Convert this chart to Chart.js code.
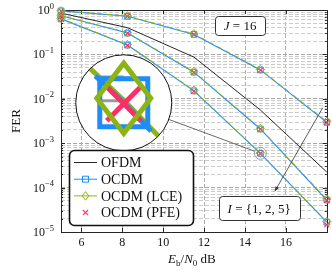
<!DOCTYPE html>
<html>
<head>
<meta charset="utf-8">
<script src="https://cdn.jsdelivr.net/npm/chart.js@4.4.0/dist/chart.umd.min.js"></script>
<style>
  html, body { margin: 0; padding: 0; background: #fff; }
</style>
</head>
<body>
<canvas id="fer" width="332" height="274"></canvas>
<script>
// Eb/N0 points (dB) and FER
const ebn0 = [5, 8.25, 11.5, 14.75, 18];
const ofdm   = [0.85, 0.40, 0.087, 0.0056, 0.000224];
const ocdmI1 = [0.955, 0.724, 0.282, 0.0447, 0.00295];
const ocdmI2 = [0.741, 0.302, 0.0398, 0.00209, 0.0000525];
const ocdmI5 = [0.631, 0.162, 0.0151, 0.000592, 0.0000166];
const lceI1  = [0.96, 0.735, 0.29, 0.046, 0.0031];
const lceI2  = [0.75, 0.31, 0.041, 0.00215, 0.000055];
const lceI5  = [0.64, 0.166, 0.0155, 0.000602, 0.0000172];
const pfeI1  = [0.95, 0.72, 0.28, 0.0443, 0.0029];
const pfeI2  = [0.735, 0.298, 0.0393, 0.00206, 0.000051];
const pfeI5  = [0.625, 0.159, 0.0148, 0.000588, 0.0000145];

const xTicks = [6, 8, 10, 12, 14, 16];
const yDecades = [1, 0.1, 0.01, 0.001, 0.0001, 0.00001];
const seriesNames = ['OFDM', 'OCDM', 'OCDM (LCE)', 'OCDM (PFE)'];

// annotation anchors (data coordinates)
const labelJ = [13.76, Math.pow(10, -0.34)];
const labelI = [14.69, Math.pow(10, -4.46)];
const arrowFrom = [17.8, Math.pow(10, -2.2)];
const arrowTo = [15.46, Math.pow(10, -4.08)];
const insetAt = [8.07, Math.pow(10, -2.09)];

const BLUE = '#1f8cfa', GREEN = '#8cb414', PINK = '#ff2d64', BLACK = '#262626';
const SERIF = '"Liberation Serif", "DejaVu Serif", serif';

const pts = arr => ebn0.map((x, i) => ({ x: x, y: arr[i] }));

function ocdmSet(arr) {
  return { label: seriesNames[1], data: pts(arr), borderColor: BLUE, borderWidth: 1.1,
    pointStyle: 'rect', pointRadius: 4, pointBorderWidth: 1, pointBackgroundColor: 'rgba(0,0,0,0)',
    order: 2, clip: false };
}
function lceSet(arr) {
  return { label: seriesNames[2], data: pts(arr), borderColor: GREEN, borderWidth: 1,
    borderDash: [5, 4],
    pointStyle: 'rectRot', pointRadius: 4.2, pointBorderWidth: 1, pointBackgroundColor: 'rgba(0,0,0,0)',
    order: 0, clip: false };
}
function pfeSet(arr) {
  return { label: seriesNames[3], data: pts(arr), borderColor: PINK, showLine: false,
    pointStyle: 'crossRot', pointRadius: 3.3, pointBorderWidth: 1.2,
    order: 1, clip: false };
}

const datasets = [
  { label: seriesNames[0], data: pts(ofdm), borderColor: BLACK, borderWidth: 1, pointRadius: 0, order: 3, clip: false },
  ocdmSet(ocdmI1), ocdmSet(ocdmI2), ocdmSet(ocdmI5),
  pfeSet(pfeI1), pfeSet(pfeI2), pfeSet(pfeI5),
  lceSet(lceI1), lceSet(lceI2), lceSet(lceI5)
];

function isDecade(v) {
  const l = Math.log10(v);
  return Math.abs(l - Math.round(l)) < 1e-6;
}

function richText(ctx, parts, x, y, align) {
  let w = 0;
  parts.forEach(p => { ctx.font = p.font; w += ctx.measureText(p.t).width; });
  let cx = align === 'center' ? x - w / 2 : (align === 'right' ? x - w : x);
  ctx.textAlign = 'left';
  ctx.textBaseline = 'alphabetic';
  parts.forEach(p => {
    ctx.font = p.font;
    ctx.fillText(p.t, cx, y + (p.dy || 0));
    cx += ctx.measureText(p.t).width;
  });
  return w;
}

function roundBox(ctx, x, y, w, h, r) {
  ctx.beginPath();
  ctx.moveTo(x + r, y);
  ctx.arcTo(x + w, y, x + w, y + h, r);
  ctx.arcTo(x + w, y + h, x, y + h, r);
  ctx.arcTo(x, y + h, x, y, r);
  ctx.arcTo(x, y, x + w, y, r);
  ctx.closePath();
}

function drawMarker(ctx, style, x, y, s) {
  ctx.beginPath();
  if (style === 'rect') {
    ctx.rect(x - s, y - s, 2 * s, 2 * s);
  } else if (style === 'diamond') {
    ctx.moveTo(x, y - s * 1.3); ctx.lineTo(x + s, y); ctx.lineTo(x, y + s * 1.3); ctx.lineTo(x - s, y); ctx.closePath();
  } else if (style === 'x') {
    ctx.moveTo(x - s, y - s); ctx.lineTo(x + s, y + s);
    ctx.moveTo(x - s, y + s); ctx.lineTo(x + s, y - s);
  }
  ctx.stroke();
}

const decor = {
  id: 'decor',
  beforeDatasetsDraw(chart) {
    const { ctx, chartArea: a, scales: { x: xs, y: ys } } = chart;
    ctx.save();
    ctx.strokeStyle = BLACK;
    ctx.lineWidth = 1;
    // ticks on all four sides
    ctx.beginPath();
    xs.ticks.forEach(t => {
      const px = Math.round(xs.getPixelForValue(t.value)) + 0.5;
      ctx.moveTo(px, a.bottom); ctx.lineTo(px, a.bottom - 4);
      ctx.moveTo(px, a.top); ctx.lineTo(px, a.top + 4);
    });
    ys.ticks.forEach(t => {
      const py = Math.round(ys.getPixelForValue(t.value)) + 0.5;
      const len = isDecade(t.value) ? 4 : 2;
      ctx.moveTo(a.left, py); ctx.lineTo(a.left + len, py);
      ctx.moveTo(a.right, py); ctx.lineTo(a.right - len, py);
    });
    ctx.stroke();
    ctx.strokeRect(Math.round(a.left) + 0.5, Math.round(a.top) + 0.5, Math.round(a.right - a.left), Math.round(a.bottom - a.top));
    ctx.restore();
  },
  afterDraw(chart) {
    const { ctx, chartArea: a, scales: { x: xs, y: ys } } = chart;
    ctx.save();
    ctx.fillStyle = '#111';

    // y tick labels 10^k
    yDecades.forEach(v => {
      const py = ys.getPixelForValue(v);
      const k = Math.round(Math.log10(v));
      const ex = k === 0 ? '0' : '\u2212' + (-k);
      richText(ctx, [
        { t: '10', font: '12px ' + SERIF, dy: 4 },
        { t: ex, font: '8.5px ' + SERIF, dy: -1.5 }
      ], a.left - 7, py, 'right');
    });

    // axis titles
    richText(ctx, [
      { t: 'E', font: 'italic 13px ' + SERIF },
      { t: 'b', font: '9px ' + SERIF, dy: 2.5 },
      { t: '/', font: '13px ' + SERIF },
      { t: 'N', font: 'italic 13px ' + SERIF },
      { t: '0', font: '9px ' + SERIF, dy: 2.5 },
      { t: ' dB', font: '13px ' + SERIF }
    ], (a.left + a.right) / 2 - 2, 263, 'center');

    ctx.save();
    ctx.translate(20, (a.top + a.bottom) / 2);
    ctx.rotate(-Math.PI / 2);
    ctx.font = '13px ' + SERIF;
    ctx.textAlign = 'center';
    ctx.textBaseline = 'alphabetic';
    ctx.fillText('FER', 0, 0);
    ctx.restore();

    // spy-glass inset on the I=5 point at 14.75 dB
    const R = 48, M = 8, si = 3;
    const cx = xs.getPixelForValue(insetAt[0]), cy = ys.getPixelForValue(insetAt[1]);
    const px = xs.getPixelForValue(ebn0[si]), py = ys.getPixelForValue(ocdmI5[si]);
    const tr = (x, y) => [cx + (x - px) * M, cy + (y - py) * M];
    const dx = cx - px, dy = cy - py, d = Math.hypot(dx, dy), r = R / M;
    ctx.strokeStyle = '#444';
    ctx.lineWidth = 0.8;
    ctx.beginPath();
    ctx.moveTo(px + dx / d * r, py + dy / d * r);
    ctx.lineTo(cx - dx / d * R, cy - dy / d * R);
    ctx.stroke();
    ctx.strokeStyle = '#888';
    ctx.beginPath(); ctx.arc(px, py, r, 0, Math.PI * 2); ctx.stroke();

    ctx.save();
    ctx.beginPath(); ctx.arc(cx, cy, R, 0, Math.PI * 2);
    ctx.fillStyle = '#fff'; ctx.fill(); ctx.clip();
    // magnified grid dashes (left of the marker)
    ctx.strokeStyle = '#9a9a9a';
    ctx.lineWidth = 3;
    [6e-4, 7e-4].forEach(v => {
      const gy = ys.getPixelForValue(v);
      const p0 = tr(px - 3.2, gy), p1 = tr(px, gy);
      ctx.beginPath(); ctx.moveTo(p0[0], p0[1]); ctx.lineTo(p1[0], p1[1]); ctx.stroke();
    });
    // magnified curves
    ctx.lineWidth = 5;
    ctx.strokeStyle = GREEN;
    ctx.beginPath();
    [2, 3, 4].forEach((i, n) => {
      const p = tr(xs.getPixelForValue(ebn0[i]), ys.getPixelForValue(lceI5[i]));
      n ? ctx.lineTo(p[0], p[1]) : ctx.moveTo(p[0], p[1]);
    });
    ctx.stroke();
    ctx.save();
    ctx.beginPath(); ctx.arc(cx, cy, R * 0.82, 0, Math.PI * 2); ctx.clip();
    ctx.strokeStyle = BLUE;
    ctx.beginPath();
    [2, 3, 4].forEach((i, n) => {
      const p = tr(xs.getPixelForValue(ebn0[i]), ys.getPixelForValue(ocdmI5[i]));
      n ? ctx.lineTo(p[0], p[1]) : ctx.moveTo(p[0], p[1]);
    });
    ctx.stroke();
    ctx.restore();
    ctx.lineWidth = 5;
    ctx.strokeStyle = BLUE;
    drawMarker(ctx, 'rect', cx, cy, 24);
    const pf = tr(px, ys.getPixelForValue(pfeI5[si]));
    ctx.strokeStyle = PINK;
    drawMarker(ctx, 'x', pf[0], pf[1], 17);
    const pl = tr(px, ys.getPixelForValue(lceI5[si]));
    ctx.strokeStyle = GREEN;
    drawMarker(ctx, 'diamond', pl[0], pl[1] - 2, 27);
    ctx.restore();
    ctx.strokeStyle = '#111';
    ctx.lineWidth = 1;
    ctx.beginPath(); ctx.arc(cx, cy, R, 0, Math.PI * 2); ctx.stroke();

    // arrow across the curves
    const ax0 = xs.getPixelForValue(arrowFrom[0]), ay0 = ys.getPixelForValue(arrowFrom[1]);
    const ax1 = xs.getPixelForValue(arrowTo[0]), ay1 = ys.getPixelForValue(arrowTo[1]);
    const ang = Math.atan2(ay1 - ay0, ax1 - ax0);
    ctx.strokeStyle = '#333';
    ctx.fillStyle = '#333';
    ctx.lineWidth = 0.8;
    ctx.beginPath(); ctx.moveTo(ax0, ay0); ctx.lineTo(ax1, ay1); ctx.stroke();
    ctx.beginPath();
    ctx.moveTo(ax1, ay1);
    ctx.lineTo(ax1 - 5 * Math.cos(ang - 0.4), ay1 - 5 * Math.sin(ang - 0.4));
    ctx.lineTo(ax1 - 5 * Math.cos(ang + 0.4), ay1 - 5 * Math.sin(ang + 0.4));
    ctx.closePath(); ctx.fill();

    // text boxes
    function labelBox(at, parts, w, h) {
      const bx = xs.getPixelForValue(at[0]), by = ys.getPixelForValue(at[1]);
      roundBox(ctx, Math.round(bx - w / 2) + 0.5, Math.round(by - h / 2) + 0.5, w, h, 3);
      ctx.fillStyle = '#fff'; ctx.fill();
      ctx.strokeStyle = '#333'; ctx.lineWidth = 1; ctx.stroke();
      ctx.fillStyle = '#111';
      richText(ctx, parts, bx, by + 4.5, 'center');
    }
    labelBox(labelJ, [
      { t: 'J', font: 'italic 13px ' + SERIF },
      { t: ' = 16', font: '13px ' + SERIF }
    ], 50, 19);
    labelBox(labelI, [
      { t: 'I', font: 'italic 13px ' + SERIF },
      { t: ' = {1, 2, 5}', font: '13px ' + SERIF }
    ], 81, 24);

    // legend
    const lx = a.left + 8, ly = a.bottom - 82, lw = 124, lh = 75;
    roundBox(ctx, lx + 0.5, ly + 0.5, lw, lh, 5);
    ctx.fillStyle = '#fff'; ctx.fill();
    ctx.strokeStyle = '#111'; ctx.lineWidth = 1.6; ctx.stroke();
    const rows = [
      { name: seriesNames[0], color: BLACK, line: true, mark: null },
      { name: seriesNames[1], color: BLUE, line: true, mark: 'rect' },
      { name: seriesNames[2], color: GREEN, line: true, mark: 'diamond' },
      { name: seriesNames[3], color: PINK, line: false, mark: 'x' }
    ];
    rows.forEach((row, i) => {
      const ry = ly + 12.5 + i * 16.7;
      ctx.strokeStyle = row.color;
      ctx.lineWidth = 1;
      if (row.line) {
        ctx.beginPath(); ctx.moveTo(lx + 5, ry); ctx.lineTo(lx + 28, ry); ctx.stroke();
      }
      if (row.mark === 'rect') drawMarker(ctx, 'rect', lx + 16.5, ry, 3);
      if (row.mark === 'diamond') drawMarker(ctx, 'diamond', lx + 16.5, ry, 3.3);
      if (row.mark === 'x') { ctx.lineWidth = 1.1; drawMarker(ctx, 'x', lx + 16.5, ry, 2.6); }
      ctx.fillStyle = '#111';
      ctx.font = '14px ' + SERIF;
      ctx.textAlign = 'left';
      ctx.textBaseline = 'middle';
      ctx.fillText(row.name, lx + 32, ry + 1);
    });
    ctx.restore();
  }
};

const gridColor = c => (c.tick && isDecade(c.tick.value)) ? '#a8a8a8' : '#cccccc';

new Chart(document.getElementById('fer').getContext('2d'), {
  type: 'line',
  data: { datasets: datasets },
  options: {
    responsive: false,
    animation: false,
    devicePixelRatio: 1,
    layout: { padding: { left: 0, right: 4, top: 10, bottom: 0 } },
    elements: { line: { tension: 0 } },
    plugins: { legend: { display: false }, tooltip: { enabled: false } },
    scales: {
      x: {
        type: 'linear', min: 5, max: 18,
        afterBuildTicks: s => { s.ticks = xTicks.map(v => ({ value: v })); },
        afterFit: s => { s.height = 42; },
        ticks: { font: { family: SERIF, size: 12 }, color: '#111', padding: 4 },
        grid: { drawTicks: false, color: '#b0b0b0', lineWidth: 1 },
        border: { display: false, dash: [4, 2] }
      },
      y: {
        type: 'logarithmic', min: 1e-5, max: 1,
        afterBuildTicks: s => {
          const t = [];
          for (let e = -5; e < 0; e++) for (let m = 1; m < 10; m++) t.push({ value: m * Math.pow(10, e) });
          t.push({ value: 1 });
          s.ticks = t;
        },
        afterFit: s => { s.width = 61; },
        ticks: { display: false },
        grid: { drawTicks: false, color: gridColor, lineWidth: 1 },
        border: { display: false, dash: [4, 2] }
      }
    }
  },
  plugins: [decor]
});
</script>
</body>
</html>
